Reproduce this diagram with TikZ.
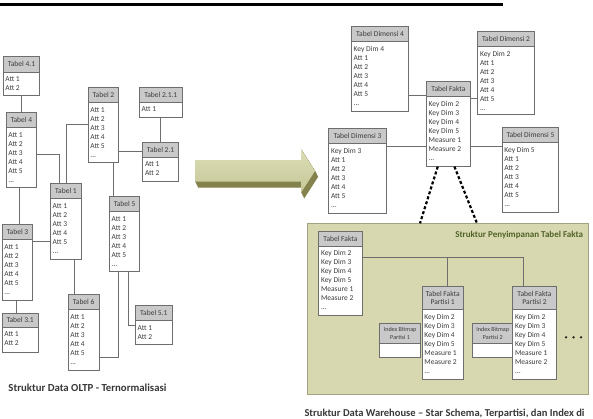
\documentclass[tikz,border=0pt]{standalone}
\usepackage{fontspec}
\usepackage{graphicx}
\setmainfont{Carlito}
\definecolor{boxgray}{HTML}{6E6E6E}
\definecolor{hdrgray}{HTML}{C9C9C9}
\definecolor{txtgray}{HTML}{3C3C3C}
\definecolor{linegray}{HTML}{6E6E6E}
\definecolor{gbfill}{HTML}{D8D8B0}
\definecolor{gbborder}{HTML}{A3A383}
\definecolor{titlegreen}{HTML}{4F6228}
\definecolor{capgray}{HTML}{383838}
\definecolor{arrowtop}{HTML}{DCDDB6}
\definecolor{arrowbot}{HTML}{C6C898}
\definecolor{arrowdark}{HTML}{84834E}
\newcommand\rdots{...}
\tikzset{
  box/.style={draw=boxgray, line width=0.9pt, inner sep=0pt, anchor=north west},
  hdr/.style={box, fill=hdrgray, font=\fontsize{7.5}{8.4}\selectfont, text=txtgray, align=center},
  smallhdr/.style={font=\fontsize{6.1}{7.4}\selectfont},
  bodybox/.style={box, fill=white},
  rowtext/.style={font=\fontsize{7.5}{9}\selectfont, text=txtgray, inner sep=0pt, anchor=base west},
  conn/.style={draw=linegray, line width=0.9pt},
  dotline/.style={line width=2.2pt, dash pattern=on 3pt off 2.2pt, black},
  captext/.style={text=capgray, anchor=west, inner sep=0pt, font=\fontsize{10.5}{12}\selectfont\bfseries},
}
% #1 extra header style, #2 name, #3 x1, #4 x2, #5 ytop, #6 yhead, #7 ybot, #8 header, #9 rows
\newcommand\tabel[9][]{%
  \node[hdr,#1,minimum width={(#4-#3)*1pt},minimum height={(#6-#5)*1pt}] (#2h) at (#3,#5) {#8};
  \node[bodybox,minimum width={(#4-#3)*1pt},minimum height={(#7-#6)*1pt}] (#2) at (#3,#6) {};
  \foreach \rowtxt [count=\i from 0] in {#9} {\node[rowtext] at (#3+2.5,#6+10+9*\i) {\rowtxt};}
}
\begin{document}
\begin{tikzpicture}[x=1pt,y=-1pt]
\useasboundingbox (0,0) rectangle (593,418);
\fill[white] (0,0) rectangle (593,418);
% top bar
\fill[black] (0,2.7) rectangle (503,6.2);

% ---------------- left: OLTP ----------------
\tabel{t41}{2.7}{39.3}{56}{71.7}{95}{Tabel 4.1}{Att 1,Att 2}
\tabel{t4}{5.7}{36}{111.7}{127.3}{186.7}{Tabel 4}{Att 1,Att 2,Att 3,Att 4,Att 5,\rdots}
\tabel{t2}{87.7}{118.3}{86.7}{102}{162.3}{Tabel 2}{Att 1,Att 2,Att 3,Att 4,Att 5,\rdots}
\tabel{t211}{139}{181.7}{86.7}{101.7}{116.7}{Tabel 2.1.1}{Att 1}
\tabel{t21}{142.3}{178}{141.7}{156.7}{181}{Tabel 2.1}{Att 1,Att 2}
\tabel{t1}{50}{81}{183.3}{198.3}{259}{Tabel 1}{Att 1,Att 2,Att 3,Att 4,Att 5,\rdots}
\tabel{t5}{109}{139.3}{196}{211}{271.3}{Tabel 5}{Att 1,Att 2,Att 3,Att 4,Att 5,\rdots}
\tabel{t3}{1.7}{32.3}{224}{239.3}{300}{Tabel 3}{Att 1,Att 2,Att 3,Att 4,Att 5,\rdots}
\tabel{t31}{1.7}{37.7}{312.7}{326.7}{351.7}{Tabel 3.1}{Att 1,Att 2}
\tabel{t6}{67.7}{98.7}{294.3}{309.3}{370}{Tabel 6}{Att 1,Att 2,Att 3,Att 4,Att 5,\rdots}
\tabel{t51}{135}{171.7}{305}{320}{344.3}{Tabel 5.1}{Att 1,Att 2}

\draw[conn] (t41.south) -- (t4h.north -| t41.south);
\draw[conn] (t4.south -| 19,0) -- (t3h.north -| 19,0);
\draw[conn] (t4.east |- 0,154) -| (t1h.north -| 59.3,0);
\draw[conn] (t2.west |- 0,124.3) -| (t1h.north -| 66,0);
\draw[conn] (t2.east |- 0,151.7) -- (t21h.west |- 0,151.7);
\draw[conn] (t211.south -| 160.3,0) -- (t21h.north -| 160.3,0);
\draw[conn] (t2.south -| 113.7,0) -- (t5h.north -| 113.7,0);
\draw[conn] (t3.east |- 0,241) -- (t1.west |- 0,241);
\draw[conn] (t3.south -| 16.3,0) -- (t31h.north -| 16.3,0);
\draw[conn] (t1.south -| 74.7,0) -- (t6h.north -| 74.7,0);
\draw[conn] (t5.south -| 118.3,0) |- (t6.east |- 0,357.7);
\draw[conn] (t5.south -| 128.3,0) |- (t51.west |- 0,325);

\node[captext] (cap1) at (8.3,387.3) {\resizebox{158pt}{!}{Struktur Data OLTP - Ternormalisasi}};

% ---------------- arrow ----------------
\foreach \k in {0,1,...,12} {
  \fill[arrowdark, shift={(\k*0.25,\k*0.5)}] (195,160) -- (301,160) -- (301,149) -- (315,171) -- (301,192.7) -- (301,181.7) -- (195,181.7) -- cycle;
}
\shade[top color=arrowtop, bottom color=arrowbot] (195,160) -- (301,160) -- (301,149) -- (315,171) -- (301,192.7) -- (301,181.7) -- (195,181.7) -- cycle;

% ---------------- right: star schema ----------------
\tabel{td4}{351}{408.3}{25.7}{41}{110.7}{Tabel Dimensi 4}{Key Dim 4,Att 1,Att 2,Att 3,Att 4,Att 5,\rdots}
\tabel{td2}{477.3}{534}{30.7}{46}{114.3}{Tabel Dimensi 2}{Key Dim 2,Att 1,Att 2,Att 3,Att 4,Att 5,\rdots}
\tabel{tf}{426}{470}{81}{96}{165.7}{Tabel Fakta}{Key Dim 2,Key Dim 3,Key Dim 4,Key Dim 5,Measure 1,Measure 2,\rdots}
\tabel{td3}{328.3}{385.7}{128.3}{143.3}{212.7}{Tabel Dimensi 3}{Key Dim 3,Att 1,Att 2,Att 3,Att 4,Att 5,\rdots}
\tabel{td5}{501.7}{558.3}{127.3}{142.3}{211.7}{Tabel Dimensi 5}{Key Dim 5,Att 1,Att 2,Att 3,Att 4,Att 5,\rdots}

\draw[conn] (td4.east |- 0,95.7) -- (tf.west |- 0,95.7);
\draw[conn] (td2.west |- 0,98.3) -- (tf.east |- 0,98.3);
\draw[conn] (td3.east |- 0,146.7) -- (tf.west |- 0,146.7);
\draw[conn] (tf.east |- 0,146.7) -- (td5.west |- 0,146.7);

% green storage box
\node[draw=gbborder, fill=gbfill, line width=1pt, anchor=north west, inner sep=0pt,
      minimum width=280.4pt, minimum height=170.7pt] (gb) at (307.3,223.3) {};
\node[font=\fontsize{9}{10}\selectfont\bfseries, text=titlegreen, anchor=east, inner sep=0pt] (gbt) at (583.3,235) {Struktur Penyimpanan Tabel Fakta};

\draw[dotline] ([xshift=-10.7pt]tf.south) -- (gb.north -| 420,0);
\draw[dotline] ([xshift=6pt]tf.south) -- (gb.north -| 477,0);

\tabel{tfi}{318.3}{361.7}{230.7}{245.7}{315}{Tabel Fakta}{Key Dim 2,Key Dim 3,Key Dim 4,Key Dim 5,Measure 1,Measure 2,\rdots}
\tabel{tp1}{421.7}{462.7}{285.7}{309.3}{379.3}{Tabel Fakta\\Partisi 1}{Key Dim 2,Key Dim 3,Key Dim 4,Key Dim 5,Measure 1,Measure 2,\rdots}
\tabel{tp2}{512.3}{555.7}{285.7}{309.3}{379.3}{Tabel Fakta\\Partisi 2}{Key Dim 2,Key Dim 3,Key Dim 4,Key Dim 5,Measure 1,Measure 2,\rdots}

% index bitmap boxes
\node[hdr,smallhdr,minimum width=40.7pt,minimum height=20.6pt] (ib1h) at (379.3,322.7) {Index Bitmap\\Partisi 1};
\node[bodybox,minimum width=40.7pt,minimum height=13.7pt] (ib1) at (379.3,343.3) {};
\node[hdr,smallhdr,minimum width=40pt,minimum height=20.6pt] (ib2h) at (472.3,322.7) {Index Bitmap\\Partisi 2};
\node[bodybox,minimum width=40pt,minimum height=13.7pt] (ib2) at (472.3,343.3) {};

\coordinate (br) at (447.7,257.3);
\draw[conn] (tfi.east |- br) -| (tp2h.north -| 523.3,0);
\draw[conn] (br) -- (tp1h.north -| br);

\foreach \x in {566,573.5,581} \fill[black!85] (\x,337.3) circle (1.3pt);

\node[captext] (cap2) at (304.3,413.3) {\resizebox{280pt}{!}{Struktur Data Warehouse – Star Schema, Terpartisi, dan Index di}};
\end{tikzpicture}
\end{document}
